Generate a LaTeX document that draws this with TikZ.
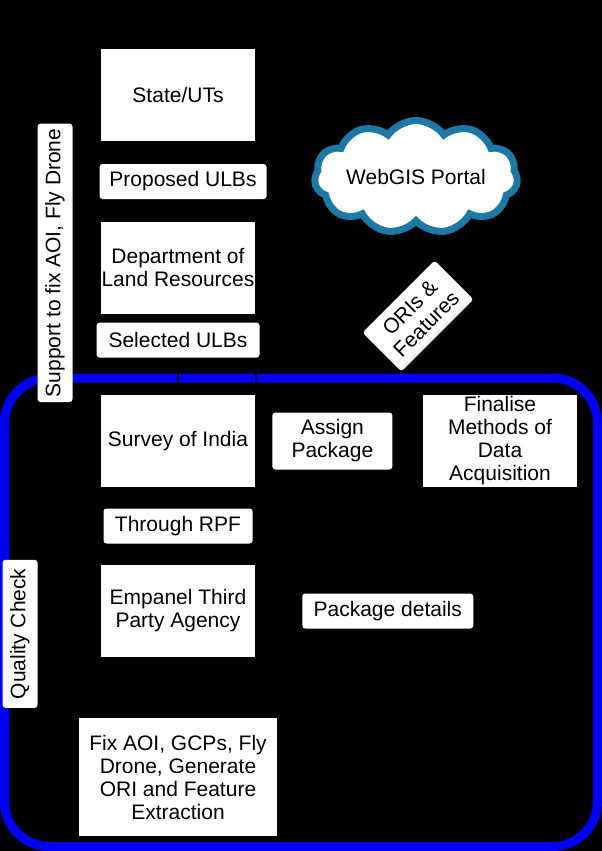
\documentclass[tikz,border=0pt]{standalone}
\usepackage{fontspec}
\setmainfont{Liberation Sans}
\usetikzlibrary{positioning}
\usetikzlibrary{arrows,shapes.symbols}

\definecolor{frameblue}{RGB}{0,0,250}
\definecolor{cloudblue}{RGB}{30,120,165}

\tikzset{
  stage/.style={draw=black,fill=white,align=center,inner sep=1pt,outer sep=0pt,minimum width=156pt,minimum height=93pt},
  tag/.style={fill=white,rounded corners=3pt,align=center,inner xsep=5pt,minimum height=35pt},
}

\begin{document}
\begin{tikzpicture}[x=1pt,y=-1pt,->,>=stealth',shorten >=1pt,line width=1.5pt,node distance=80pt,font=\fontsize{21}{23}\selectfont]
      \useasboundingbox (0,0) rectangle (602,851);
      \fill[-,black] (0,0) rectangle (602,851);
      \draw[-,frameblue,line width=9pt,rounded corners=45pt] (4.5,378) rectangle (597.5,846.5);
      \node[stage] (ST) at (178,95) {State/UTs};
      \node[stage] (DL) [below=of ST] {Department of\\Land Resources};
      \node[stage] (SI) [below=of DL] {Survey of India};
      \node[stage] (EA) [below=77pt of SI] {Empanel Third\\Party Agency};
      \node[stage,minimum width=200pt,minimum height=119pt] (FX) [below=60pt of EA] {Fix AOI, GCPs, Fly\\Drone, Generate\\ORI and Feature\\Extraction};
      \node[stage] (FM) [right=166pt of SI] {Finalise\\Methods of\\Data\\Acquisition};
      \node[cloud,cloud puffs=11,cloud puff arc=110,cloud ignores aspect,draw=cloudblue,line width=7pt,fill=white,minimum width=190pt,minimum height=113pt] (WG) at (416,177) {WebGIS Portal};
      \node[tag,rotate=45,minimum width=102pt,minimum height=55pt] (OF) at (418,316) {ORIs \&\\Features};
      \path[->] (ST) edge node[tag,xshift=5pt,minimum width=167pt] {Proposed ULBs} (DL)
      (DL) edge node[tag,pos=0.32,minimum width=163pt] {Selected ULBs} (SI)
      (SI) edge node[tag,minimum width=149pt] {Through RPF} (EA)
      (SI) edge node[tag,pos=0.46,minimum width=120pt,minimum height=57pt] {Assign\\Package} (FM)
      (EA) edge (FX);
      \draw (FM.south) |- node[tag,pos=0.73,minimum width=171pt] {Package details} (EA.east);
      \draw (ST.west) -- ++(-45,0) |- node[tag,rotate=90,pos=0.13,minimum width=278pt] {Support to fix AOI, Fly Drone} (FX.160);
      \draw (FX.west) -- ++(-58,0) |- node[tag,rotate=90,pos=0.213,minimum width=148pt] {Quality Check} (SI.west);
      \draw (SI.north east) -- ++(0,-33) -- (OF) -- (WG);
    \end{tikzpicture}
\end{document}
